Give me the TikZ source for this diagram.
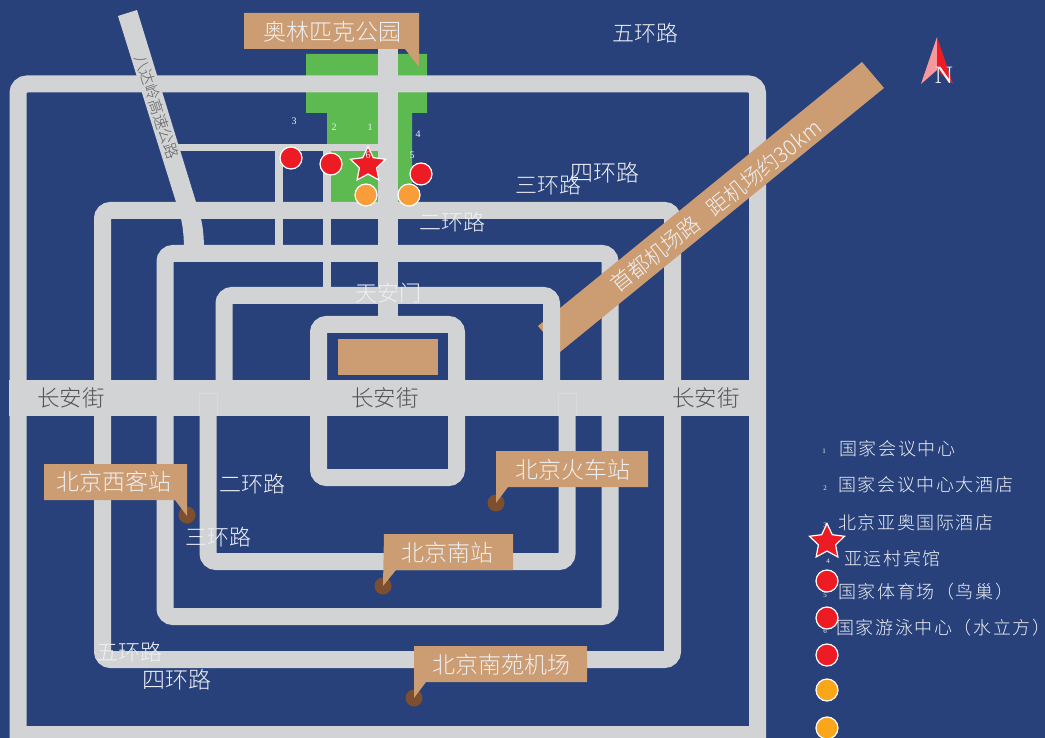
\documentclass[tikz,border=0pt]{standalone}
\usepackage{fontspec}
\usetikzlibrary{shapes.geometric}
\newfontfamily\cjk{Noto Sans CJK SC Light}
\newfontfamily\cjkleg[LetterSpace=9]{Noto Sans CJK SC Light}
\setmainfont{Liberation Serif}
\definecolor{bg}{HTML}{28417B}
\definecolor{road}{HTML}{D1D3D4}
\definecolor{tan}{HTML}{CC9D73}
\definecolor{park}{HTML}{5CBA50}
\definecolor{redd}{HTML}{ED1C24}
\definecolor{orng}{HTML}{F99D3A}
\definecolor{orngb}{HTML}{FAA61A}
\definecolor{brwn}{HTML}{7D4F2F}
\definecolor{lab}{HTML}{EEF0F4}
\tikzset{
  x=1pt,y=-1pt,
  ring/.style={draw=road,line width=17pt,rounded corners=8pt},
  thinroad/.style={draw=road,line width=8pt},
  callout/.style={fill=tan,draw=none},
  calltext/.style={text=lab,font=\cjk\fontsize{23}{24}\selectfont,inner sep=0pt,anchor=center},
  roadtext/.style={text=lab,font=\cjk\fontsize{22}{24}\selectfont,inner sep=0pt,anchor=center},
  axistext/.style={text=black!68,font=\cjk\fontsize{22.5}{24}\selectfont,inner sep=0pt,anchor=center},
  legtext/.style={text=lab,font=\cjkleg\fontsize{18}{20}\selectfont,inner sep=0pt,anchor=west},
  num/.style={text=lab,font=\fontsize{10}{11}\selectfont,inner sep=0pt},
  dot/.style={circle,draw=white,line width=1.2pt,minimum size=22pt,inner sep=0pt},
  reddot/.style={dot,fill=redd},
  orangedot/.style={dot,fill=orng},
  legorange/.style={dot,fill=orngb},
  stationdot/.style={circle,fill=brwn,minimum size=17pt,inner sep=0pt},
  starmark/.style={star,star points=5,star point ratio=2.05,fill=redd,draw=white,line width=1.2pt,minimum size=37pt,inner sep=0pt},
}
\begin{document}
\begin{tikzpicture}
\path[use as bounding box] (0,0) rectangle (1045,738);
\clip (0,0) rectangle (1045,738);
\fill[bg] (0,0) rectangle (1045,738);
% park
\fill[park] (306,54) -- (427,54) -- (427,113) -- (412,113) -- (412,202) -- (331,202) -- (331,151) -- (327,151) -- (327,113) -- (306,113) -- cycle;
% thin roads
\draw[road,line width=7.5pt] (178,147.5) -- (378,147.5);
\draw[thinroad] (279,148) -- (279,250);
\draw[thinroad] (327,148) -- (327,292);
% highway
\fill[road] (118,16) -- (137,10) -- (196,202) .. controls (202,218) and (204,232) .. (204,250) -- (184,250) .. controls (184,232) and (182,218) .. (176,202) -- cycle;
% rings
\draw[ring,rounded corners=9pt] (18,750) -- (18,84) -- (757.5,84) -- (757.5,750);
\draw[road,line width=17pt] (18,734.5) -- (757.5,734.5);
\draw[ring] (102.5,210.5) rectangle (672.5,659.5);
\draw[ring] (165,253.5) rectangle (610,616.5);
% centre road
\draw[road,line width=20pt] (388,45) -- (388,325);
% Chang'an
\fill[road] (9,380) rectangle (766,416);
% airport road
\fill[tan] (862,62) -- (884,88) -- (560,352) -- (538,326) -- cycle;
% ring 2 pieces
\draw[ring] (224,380) -- (224,295.5) -- (551.5,295.5) -- (551.5,380);
\draw[ring] (208,393) -- (208,561.5) -- (567,561.5) -- (567,393);
\draw[white!18!road,line width=.6pt] (199,416) -- (199,393) -- (217,393) -- (217,416);
\draw[white!18!road,line width=.6pt] (558,416) -- (558,393) -- (576,393) -- (576,416);
% inner ring
\draw[ring] (318.5,324.5) rectangle (456.5,477.5);
\fill[tan] (338,339) rectangle (438,375);
% callouts
\fill[callout] (244,13) -- (419,13) -- (419,67) -- (405,49) -- (244,49) -- cycle;
\node[stationdot] (dwest) at (187,515) {};
\node[stationdot] (dbj) at (496,503) {};
\node[stationdot] (dsouth) at (383,586) {};
\node[stationdot] (dnanyuan) at (414,698) {};
\fill[callout] (44,464) -- (187,464) -- (187,516) -- (175,500) -- (44,500) -- cycle;
\fill[callout] (496,451) -- (648,451) -- (648,487) -- (508,487) -- (496,503) -- cycle;
\fill[callout] (384,534) -- (513,534) -- (513,570) -- (396,570) -- (383,586) -- cycle;
\fill[callout] (414,646) -- (587,646) -- (587,682) -- (426,682) -- (414,698) -- cycle;
\node[calltext] (tolympic) at (332,32) {奥林匹克公园};
\node[calltext] (twest) at (114,482) {北京西客站};
\node[calltext] (tbj) at (573,470) {北京火车站};
\node[calltext] (tsouth) at (447,553) {北京南站};
\node[calltext] (tnanyuan) at (501,665) {北京南苑机场};
% road labels
\node[roadtext] (r5a) at (645,33) {五环路};
\node[roadtext,font=\cjk\fontsize{23}{24}\selectfont] (r4a) at (605,173) {四环路};
\node[roadtext] (r3a) at (548,185) {三环路};
\node[roadtext] (r2a) at (452,222) {二环路};
\node[roadtext] (tam) at (388,293) {天安门};
\node[axistext] (ca1) at (71,398) {长安街};
\node[axistext] (ca2) at (385,398) {长安街};
\node[axistext] (ca3) at (706,398) {长安街};
\node[roadtext] (r2b) at (252,484) {二环路};
\node[roadtext] (r3b) at (218,537) {三环路};
\node[roadtext] (r5b) at (129,652) {五环路};
\node[roadtext,font=\cjk\fontsize{23}{24}\selectfont] (r4b) at (177,680) {四环路};
\node[text=black!62,font=\cjk\fontsize{15.5}{17}\selectfont,rotate=-72,inner sep=0pt] (bada) at (157,107) {八达岭高速公路};
\node[text=lab,font=\cjk\fontsize{21.5}{24}\selectfont,rotate=38.5,inner sep=0pt] (air) at (716,206) {首都机场路\hspace{15pt}距机场约30km};
% map markers
\node[num] (n3) at (294,121) {3};
\node[num] (n2) at (334,127) {2};
\node[num] (n1) at (370,127) {1};
\node[num] (n4) at (418,134) {4};
\node[reddot] (m3) at (291,158) {};
\node[reddot] (m2) at (331,164) {};
\node[reddot] (m4) at (421,174) {};
\node[orangedot] (m5) at (366,195) {};
\node[orangedot] (m6) at (409,195) {};
\node[starmark] (m1) at (368,165) {};
\node[num] (n6) at (368,155) {6};
\node[num] (n5) at (412,155) {5};
% compass
\fill[fill=redd!45!white] (937,37) -- (921,84) -- (937,70) -- cycle;
\fill[redd] (937,37) -- (953,84) -- (937,70) -- cycle;
\node[text=lab,font=\fontsize{25}{26}\selectfont,inner sep=0pt] (north) at (944,75) {N};
% legend
\node[num,font=\fontsize{7}{8}\selectfont] (l1) at (824,451) {1};
\node[num,font=\fontsize{7}{8}\selectfont] (l2) at (825,488) {2};
\node[num,font=\fontsize{7}{8}\selectfont] (l3) at (825,525) {3};
\node[num,font=\fontsize{7}{8}\selectfont] (l4) at (828,561) {4};
\node[num,font=\fontsize{7}{8}\selectfont] (l5) at (825,595) {5};
\node[num,font=\fontsize{7}{8}\selectfont] (l6) at (825,631) {6};
\node[legtext] (lt1) at (839,449) {国家会议中心};
\node[legtext] (lt2) at (838,485) {国家会议中心大酒店};
\node[legtext] (lt3) at (838,523) {北京亚奥国际酒店};
\node[legtext] (lt4) at (844,559) {亚运村宾馆};
\node[legtext] (lt5) at (838,592) {国家体育场（鸟巢）};
\node[legtext] (lt6) at (836,628) {国家游泳中心（水立方）};
\node[starmark] (ls) at (827,542) {};
\node[reddot] (lr1) at (827,581) {};
\node[reddot] (lr2) at (827,618) {};
\node[reddot] (lr3) at (827,655) {};
\node[legorange] (lo1) at (827,690) {};
\node[legorange] (lo2) at (827,728) {};
\end{tikzpicture}
\end{document}
